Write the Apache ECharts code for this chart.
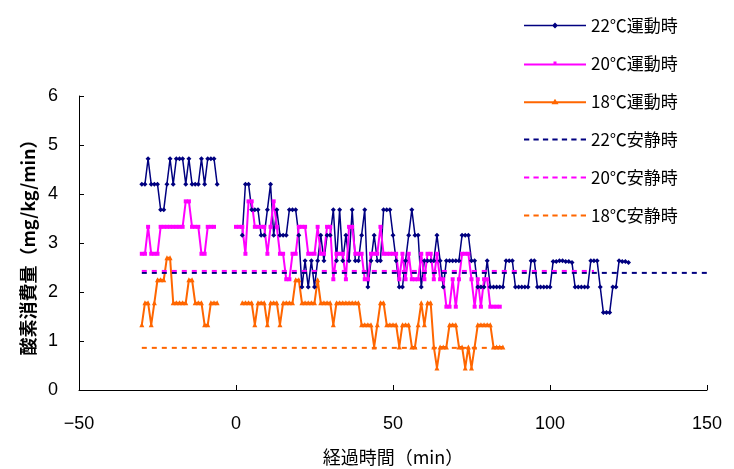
<!DOCTYPE html>
<html><head><meta charset="utf-8">
<script src="https://cdn.jsdelivr.net/npm/echarts@6/dist/echarts.min.js"></script>
<style>html,body{margin:0;padding:0;background:#fff}#c{width:734px;height:469px}</style>
</head><body><div id="c"></div>
<script>
// x axis ticks
const xTicks = [-50, 0, 50, 100, 150];
const yTicks = [0, 1, 2, 3, 4, 5, 6];
const seriesNames = ['22℃運動時','20℃運動時','18℃運動時','22℃安静時','20℃安静時','18℃安静時'];

// 22℃ exercise: before (start -30) and after (start 2), 1-min samples
const navyStart1 = -30;
const navy1 = [4.2,4.2,4.72,4.2,4.2,4.2,3.68,3.68,4.2,4.72,4.2,4.72,4.72,4.72,4.2,4.72,4.2,4.2,4.2,4.72,4.2,4.72,4.72,4.72,4.2];
const navyStart2 = 2;
const navy2 = [3.16,4.2,4.2,3.68,3.68,3.68,3.16,3.16,3.68,4.2,
3.16,3.68,3.16,3.16,3.16,3.68,3.68,3.68,3.16,2.1,
2.64,2.1,2.64,2.1,2.64,3.16,2.64,3.16,3.16,3.68,
2.64,3.68,2.64,3.16,2.64,3.68,2.64,2.64,3.16,3.68,
2.1,2.64,3.16,2.64,2.64,3.68,3.68,3.68,3.16,2.64,
2.1,2.1,2.64,3.16,3.68,3.16,3.16,2.1,2.64,2.64,
2.64,2.64,3.16,2.64,2.1,2.64,2.64,2.64,2.64,2.64,
3.16,3.16,3.16,2.64,2.64,2.1,2.1,2.1,2.64,2.1,
2.1,2.1,2.1,2.1,2.64,2.64,2.64,2.1,2.1,2.1,
2.1,2.1,2.64,2.64,2.1,2.1,2.1,2.1,2.1,2.62,
2.62,2.64,2.64,2.62,2.62,2.6,2.1,2.1,2.1,2.1,
2.1,2.64,2.64,2.64,2.1,1.58,1.58,1.58,2.1,2.1,
2.64,2.62,2.62,2.6];

// 20℃ exercise
const pinkStart1 = -30;
const pink1 = [2.78,2.78,3.33,2.78,2.78,2.78,3.33,3.33,3.33,3.33,3.33,3.33,3.33,3.33,3.85,3.85,3.33,3.33,3.33,2.78,2.78,3.33,3.33,3.33];
const pinkStart2 = 0;
const pink2 = [3.33,3.33,3.33,2.78,3.85,3.85,3.33,3.33,3.33,3.33,
2.78,3.33,3.85,3.33,2.78,2.78,2.26,2.26,2.78,2.78,
3.33,3.33,3.33,2.78,2.78,2.78,3.33,2.78,2.78,3.33,
3.33,2.26,2.78,2.78,2.78,2.26,3.33,3.33,2.78,2.78,
2.78,2.26,2.26,2.78,2.78,2.78,3.33,2.78,2.78,2.78,
2.78,2.78,2.26,2.78,2.26,2.78,2.26,2.26,2.26,2.78,
2.26,2.78,2.78,2.26,2.78,2.26,2.26,1.7,1.7,2.26,
1.7,2.26,2.78,2.78,2.78,2.26,1.7,2.26,1.7,2.26,
2.26,1.7,1.7,1.7,1.7];

// 18℃ exercise
const orangeStart1 = -30;
const orange1 = [1.33,1.78,1.78,1.33,1.78,2.25,2.25,2.25,2.7,2.7,1.78,1.78,1.78,1.78,1.78,2.25,2.25,1.78,1.78,1.78,1.33,1.33,1.78,1.78,1.78];
const orangeStart2 = 2;
const orange2 = [1.78,1.78,1.78,1.78,1.33,1.78,1.78,1.78,1.33,1.78,
1.78,1.78,1.33,1.78,1.78,1.78,1.78,2.25,2.25,1.78,
1.78,1.78,1.78,1.78,2.25,1.78,1.78,1.78,1.78,1.33,
1.78,1.78,1.78,1.78,1.78,1.78,1.78,1.78,1.33,1.33,
1.33,1.33,0.88,1.33,1.78,1.78,1.33,1.33,1.33,1.33,
0.88,1.33,1.33,1.33,0.88,0.88,1.33,1.78,1.33,1.78,
1.78,0.88,0.45,0.88,0.88,0.88,1.33,1.33,1.33,0.88,
0.88,0.45,0.88,0.45,0.88,1.33,1.33,1.33,1.33,1.33,
0.88,0.88,0.88,0.88];

// rest levels [time, value] endpoints
const navyRest = [[-30, 2.39], [150, 2.39]];
const pinkRest = [[-30, 2.43], [114, 2.43]];
const orangeRest = [[-30, 0.86], [85, 0.86]];

function seg(start, vals) { return vals.map((v, i) => [start + i, v]); }
function joined(s1, v1, s2, v2) {
  return seg(s1, v1).concat([[(s1 + v1.length + s2 - 1) / 2, '-']], seg(s2, v2));
}

const NAVY = '#000080', PINK = '#FF00FF', ORANGE = '#FF6600';
const numFont = 'Liberation Sans, Arial, sans-serif';
const jpFont = 'Noto Sans CJK JP, sans-serif';

// legend icons (line + marker, or dashes)
const iconNavy = 'path://M0,6.25L62,6.25L62,7.75L0,7.75Z M31,4L34,7L31,10L28,7Z';
const iconPink = 'path://M0,6L62,6L62,8L0,8Z M29.5,4L32.5,4L32.5,7L29.5,7Z';
const iconOrange = 'path://M0,6L62,6L62,8L0,8Z M31,3.5L34.5,9L27.5,9Z';
let dash = 'path://';
for (let i = 0; i < 7; i++) { const x = i * 9; dash += 'M' + x + ',6L' + (x + 5) + ',6L' + (x + 5) + ',8L' + x + ',8Z '; }
const legendIcons = [iconNavy, iconPink, iconOrange, dash, dash, dash];

const chart = echarts.init(document.getElementById('c'), null, {renderer: 'canvas'});
chart.setOption({
  animation: false,
  backgroundColor: '#fff',
  grid: {left: 79, right: 27, top: 96, bottom: 79, containLabel: false, outerBoundsMode: 'none'},
  legend: {
    orient: 'vertical', left: 519, top: 12,
    itemWidth: 62, itemHeight: 14, itemGap: 21,
    textStyle: {fontSize: 17, color: '#000', fontFamily: jpFont},
    data: seriesNames.map((n, i) => ({name: n, icon: legendIcons[i]}))
  },
  xAxis: {
    type: 'value', min: xTicks[0], max: xTicks[xTicks.length - 1], interval: 50,
    name: '経過時間（min）', nameLocation: 'middle', nameGap: 58,
    nameTextStyle: {fontSize: 18, color: '#000', fontFamily: jpFont},
    axisLine: {show: true, onZero: false, lineStyle: {color: '#000', width: 1}},
    axisTick: {show: true, inside: true, length: 5, lineStyle: {color: '#000'}},
    axisLabel: {fontSize: 18, color: '#000', margin: 25, fontFamily: numFont,
      formatter: v => (v < 0 ? '\u2212' + Math.abs(v) : String(v))},
    splitLine: {show: false}
  },
  yAxis: {
    type: 'value', min: yTicks[0], max: yTicks[yTicks.length - 1], interval: 1,
    name: '酸素消費量（mg/kg/min）', nameLocation: 'middle', nameGap: 40,
    nameTextStyle: {fontSize: 18, color: '#000', fontFamily: jpFont, fontWeight: 'bold'},
    axisLine: {show: true, onZero: false, lineStyle: {color: '#000', width: 1}},
    axisTick: {show: true, inside: true, length: 5, lineStyle: {color: '#000'}},
    axisLabel: {fontSize: 18, color: '#000', margin: 21, fontFamily: numFont},
    splitLine: {show: false}
  },
  series: [
    {name: seriesNames[0], type: 'line', data: joined(navyStart1, navy1, navyStart2, navy2),
      symbol: 'diamond', symbolSize: 5, showAllSymbol: true, connectNulls: false,
      lineStyle: {color: NAVY, width: 1.5}, itemStyle: {color: NAVY}},
    {name: seriesNames[1], type: 'line', data: joined(pinkStart1, pink1, pinkStart2, pink2),
      symbol: 'rect', symbolSize: 4, showAllSymbol: true, connectNulls: false,
      lineStyle: {color: PINK, width: 2}, itemStyle: {color: PINK}},
    {name: seriesNames[2], type: 'line', data: joined(orangeStart1, orange1, orangeStart2, orange2),
      symbol: 'triangle', symbolSize: 5, showAllSymbol: true, connectNulls: false,
      lineStyle: {color: ORANGE, width: 2}, itemStyle: {color: ORANGE}},
    {name: seriesNames[3], type: 'line', data: navyRest, symbol: 'none',
      lineStyle: {color: NAVY, width: 2, type: [5, 5]}, itemStyle: {color: NAVY}},
    {name: seriesNames[4], type: 'line', data: pinkRest, symbol: 'none',
      lineStyle: {color: PINK, width: 2, type: [5, 5]}, itemStyle: {color: PINK}},
    {name: seriesNames[5], type: 'line', data: orangeRest, symbol: 'none',
      lineStyle: {color: ORANGE, width: 2, type: [5, 5]}, itemStyle: {color: ORANGE}}
  ]
});
</script></body></html>
